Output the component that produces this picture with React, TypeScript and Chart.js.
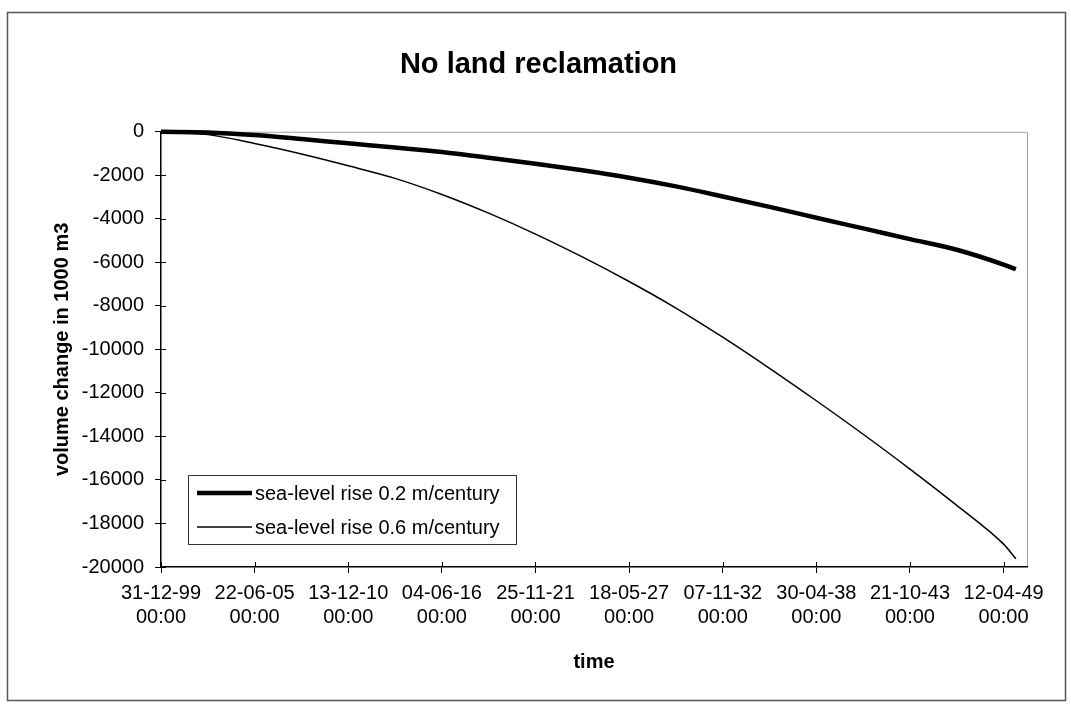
import React, { useEffect, useRef } from "react";
import { Chart, registerables } from "chart.js";

Chart.register(...registerables);

const FONT = '"Liberation Sans", Arial, sans-serif';

// days since 31-12-1999
const days = [0, 1000, 2000, 3000, 4000, 5000, 6000, 7000, 8000, 9000, 10000, 11000, 12000, 13000, 14000, 15000, 16000, 17000, 18000, 18262];
const riseLow = [0, -30, -150, -330, -530, -720, -930, -1190, -1470, -1770, -2110, -2510, -2970, -3450, -3950, -4440, -4930, -5420, -6100, -6310];
const riseHigh = [0, -130, -540, -1020, -1560, -2140, -2880, -3740, -4700, -5750, -6880, -8100, -9440, -10870, -12360, -13900, -15500, -17170, -18950, -19620];

const seriesNames = ["sea-level rise 0.2 m/century", "sea-level rise 0.6 m/century"];
const tickDates = ["31-12-99", "22-06-05", "13-12-10", "04-06-16", "25-11-21", "18-05-27", "07-11-32", "30-04-38", "21-10-43", "12-04-49"];
const tickTime = "00:00";
const yTicks = [0, -2000, -4000, -6000, -8000, -10000, -12000, -14000, -16000, -18000, -20000];

const decorPlugin = {
  id: "decor",
  beforeDraw(chart: any) {
    const ctx = chart.ctx;
    ctx.save();
    ctx.strokeStyle = "#555";
    ctx.lineWidth = 1.5;
    ctx.strokeRect(7.5, 12.5, 1058, 688);
    const a = chart.chartArea;
    ctx.strokeStyle = "#a8a388";
    ctx.lineWidth = 1;
    ctx.beginPath();
    ctx.moveTo(a.left, a.top + 0.5);
    ctx.lineTo(a.right + 0.5, a.top + 0.5);
    ctx.lineTo(a.right + 0.5, a.bottom);
    ctx.stroke();
    ctx.restore();
  },
  afterDraw(chart: any) {
    const ctx = chart.ctx;
    const a = chart.chartArea;
    const xs = chart.scales.x;
    const ys = chart.scales.y;
    ctx.save();
    ctx.strokeStyle = "#000";
    ctx.lineWidth = 1;
    ctx.beginPath();
    xs.ticks.forEach((t: any) => {
      const px = Math.round(xs.getPixelForValue(t.value)) + 0.5;
      ctx.moveTo(px, a.bottom);
      ctx.lineTo(px, a.bottom - 5);
    });
    ys.ticks.forEach((t: any) => {
      const py = Math.round(ys.getPixelForValue(t.value)) + 0.5;
      ctx.moveTo(a.left, py);
      ctx.lineTo(a.left + 5, py);
    });
    ctx.stroke();

    // legend box
    const x0 = a.left + 27;
    const y0 = a.bottom - 92;
    const w = 328;
    const h = 69;
    ctx.fillStyle = "#fff";
    ctx.fillRect(x0, y0, w, h);
    ctx.strokeStyle = "#333";
    ctx.lineWidth = 1;
    ctx.strokeRect(x0 + 0.5, y0 + 0.5, w, h);
    const widths = [4.5, 1.5];
    chart.data.datasets.forEach((ds: any, i: number) => {
      const cy = y0 + 18 + i * 34;
      ctx.strokeStyle = "#000";
      ctx.lineWidth = widths[i];
      ctx.beginPath();
      ctx.moveTo(x0 + 9, cy);
      ctx.lineTo(x0 + 64, cy);
      ctx.stroke();
      ctx.fillStyle = "#000";
      ctx.font = `20px ${FONT}`;
      ctx.textBaseline = "middle";
      ctx.textAlign = "left";
      ctx.fillText(ds.label, x0 + 67, cy + 1);
    });
    ctx.restore();
  },
};

export default function App() {
  const ref = useRef<HTMLCanvasElement | null>(null);
  useEffect(() => {
    if (!ref.current) return;
    const chart = new Chart(ref.current, {
      type: "line",
      data: {
        datasets: [
          {
            label: seriesNames[0],
            data: days.map((d, i) => ({ x: d, y: riseLow[i] })),
            borderColor: "#000",
            borderWidth: 4.5,
            pointRadius: 0,
            cubicInterpolationMode: "monotone",
            clip: false,
          },
          {
            label: seriesNames[1],
            data: days.map((d, i) => ({ x: d, y: riseHigh[i] })),
            borderColor: "#000",
            borderWidth: 1.5,
            pointRadius: 0,
            cubicInterpolationMode: "monotone",
            clip: false,
          },
        ],
      },
      options: {
        animation: false,
        responsive: false,
        layout: { padding: { left: 50, right: 44, top: 12, bottom: 31 } },
        plugins: {
          legend: { display: false },
          tooltip: { enabled: false },
          title: {
            display: true,
            text: "No land reclamation",
            color: "#000",
            font: { family: FONT, size: 29, weight: "bold" },
            padding: { top: 36, bottom: 49 },
          },
        },
        scales: {
          x: {
            type: "linear",
            min: 0,
            max: 18500,
            afterBuildTicks: (s: any) => {
              s.ticks = tickDates.map((_, i) => ({ value: i * 2000 }));
            },
            afterFit: (s: any) => {
              s.height = 107;
            },
            ticks: {
              stepSize: 2000,
              autoSkip: false,
              maxRotation: 0,
              color: "#000",
              padding: 8,
              font: { family: FONT, size: 20 },
              callback: (v: any) => [tickDates[Math.round(v / 2000)], tickTime],
            },
            grid: { drawOnChartArea: false, drawTicks: true, tickLength: 6, color: "#000" },
            border: { color: "#000", width: 1.5 },
            title: {
              display: true,
              text: "time",
              color: "#000",
              padding: 0,
              font: { family: FONT, size: 20, weight: "bold" },
            },
          },
          y: {
            min: -20000,
            max: 0,
            afterBuildTicks: (s: any) => {
              s.ticks = yTicks.map((v) => ({ value: v }));
            },
            afterFit: (s: any) => {
              s.width = 111;
            },
            ticks: {
              stepSize: 2000,
              color: "#000",
              padding: 11,
              font: { family: FONT, size: 20 },
              callback: (v: any) => String(v),
            },
            grid: { drawOnChartArea: false, drawTicks: true, tickLength: 6, color: "#000" },
            border: { color: "#000", width: 1.5 },
            title: {
              display: true,
              text: "volume change in 1000 m3",
              color: "#000",
              padding: 0,
              font: { family: FONT, size: 20, weight: "bold" },
            },
          },
        },
      } as any,
      plugins: [decorPlugin],
    });
    return () => chart.destroy();
  }, []);
  return (
    <div style={{ position: "absolute", left: 0, top: 0, width: 1071, height: 705, background: "#fff" }}>
      <canvas ref={ref} width={1071} height={705} style={{ display: "block" }} />
    </div>
  );
}
